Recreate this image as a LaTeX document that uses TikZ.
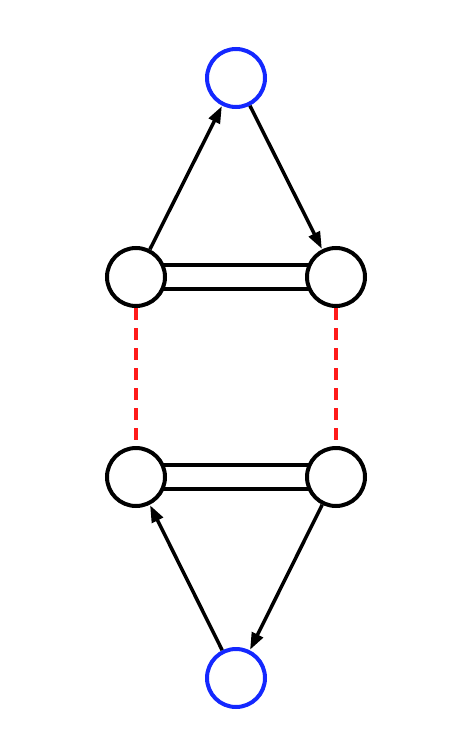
\documentclass[tikz,border=0pt]{standalone}
\usetikzlibrary{arrows.meta}
\definecolor{nodeblue}{HTML}{1428FF}
\definecolor{dashred}{HTML}{FF1A1A}
\begin{document}
\begin{tikzpicture}[x=1pt,y=-1pt,
  vtx/.style={circle,draw=black,line width=4pt,minimum size=58pt,inner sep=0pt,fill=white},
  bvtx/.style={vtx,draw=nodeblue},
  arr/.style={line width=3.5pt,-{Triangle[length=17pt,width=12pt]},shorten >=0.5pt},
  dbl/.style={line width=4pt,double=white,double distance=20pt},
  rdash/.style={draw=dashred,line width=3.5pt,dash pattern=on 12pt off 8pt}]
\useasboundingbox (0,0) rectangle (464,746);
\coordinate (ac) at (136,277);
\coordinate (bc) at (336,277);
\coordinate (cc) at (136,477);
\coordinate (dc) at (336,477);
\draw[dbl] (ac) -- (bc);
\draw[dbl] (cc) -- (dc);
\node[bvtx] (t) at (236,78) {};
\node[vtx] (a) at (ac) {};
\node[vtx] (b) at (bc) {};
\node[vtx] (c) at (cc) {};
\node[vtx] (d) at (dc) {};
\node[bvtx] (u) at (236,678) {};
\draw[rdash] (a) -- (c);
\draw[rdash] (b) -- (d);
\draw[arr] (a) -- (t);
\draw[arr] (t) -- (b);
\draw[arr] (d) -- (u);
\draw[arr] (u) -- (c);
\end{tikzpicture}
\end{document}
